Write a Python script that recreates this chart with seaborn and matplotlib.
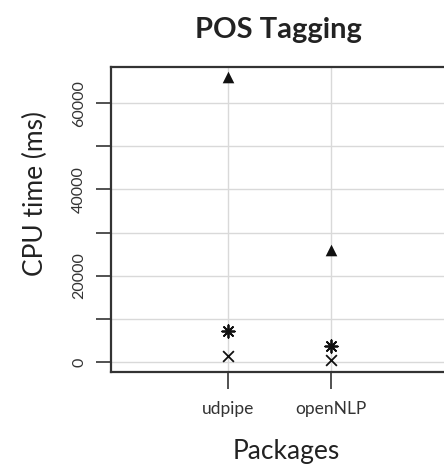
import matplotlib
matplotlib.use("Agg")
import matplotlib.pyplot as plt
import seaborn as sns
import pandas as pd
from matplotlib.ticker import FixedFormatter, FixedLocator

packages = ["udpipe", "openNLP"]
series_triangle = [66000, 26000]
series_asterisk = [7200, 3700]
series_cross = [1400, 400]
y_ticks = [0, 10000, 20000, 30000, 40000, 50000, 60000]
y_tick_labels = ["0", "", "20000", "", "40000", "", "60000"]

rows = []
for name, vals in [("triangle", series_triangle), ("asterisk", series_asterisk), ("cross", series_cross)]:
    for p, v in zip(packages, vals):
        rows.append({"Packages": p, "CPU": v, "series": name})
df = pd.DataFrame(rows)

sns.set_style("white")
plt.rcParams['font.family'] = ['Lato', 'DejaVu Sans']

fig = plt.figure(figsize=(4.44, 4.68), dpi=100)
W, H = 444, 468
px_per_cat = 103
left_px, right_px = 111, 111 + 3.64 * px_per_cat
ax = fig.add_axes([left_px / W, 1 - 372 / H, (right_px - left_px) / W, (372 - 67) / H])

markers = {"triangle": "^", "asterisk": (8, 2, 0), "cross": "x"}
sizes = {"triangle": 70, "asterisk": 80, "cross": 60}
for name in ["triangle", "asterisk", "cross"]:
    sub = df[df.series == name]
    sns.scatterplot(data=sub, x="Packages", y="CPU", ax=ax, marker=markers[name],
                    s=sizes[name], color="#111111", linewidth=1.3 if name != "triangle" else 0,
                    edgecolor="#111111", legend=False, zorder=3)

ax.set_xlim(-117 / px_per_cat, 3.64 - 117 / px_per_cat)
ax.set_ylim(-2317, 68366)
ax.yaxis.set_major_locator(FixedLocator(y_ticks))
ax.yaxis.set_major_formatter(FixedFormatter(y_tick_labels))
ax.set_xticks(range(len(packages)))
ax.set_xticklabels(packages)
ax.grid(True, color="#d9d9d9", linewidth=1.0, zorder=0)
ax.set_axisbelow(True)

for side in ["left", "top", "bottom"]:
    ax.spines[side].set_color("#333333")
    ax.spines[side].set_linewidth(1.6)
ax.spines["right"].set_visible(False)

ax.tick_params(axis="y", direction="out", length=11, width=1.2, color="#333333",
               labelsize=11.5, labelcolor="#333333", pad=7, left=True)
for lbl in ax.get_yticklabels():
    lbl.set_rotation(90)
    lbl.set_va("center")
ax.tick_params(axis="x", direction="out", length=12, width=1.2, color="#333333",
               labelsize=12.5, labelcolor="#333333", pad=9, bottom=True)

ax.set_xlabel("")
ax.set_ylabel("")
fig.text(35 / W, 1 - 193 / H, "CPU time (ms)", rotation=90, ha="center", va="center",
         fontsize=19, color="#222222")
fig.text(286 / W, 1 - 452 / H, "Packages", ha="center", va="center", fontsize=19, color="#222222")
fig.text(278 / W, 1 - 30 / H, "POS Tagging", ha="center", va="center", fontsize=21,
         fontweight="bold", color="#222222")

fig.savefig("out.png", dpi=100)
